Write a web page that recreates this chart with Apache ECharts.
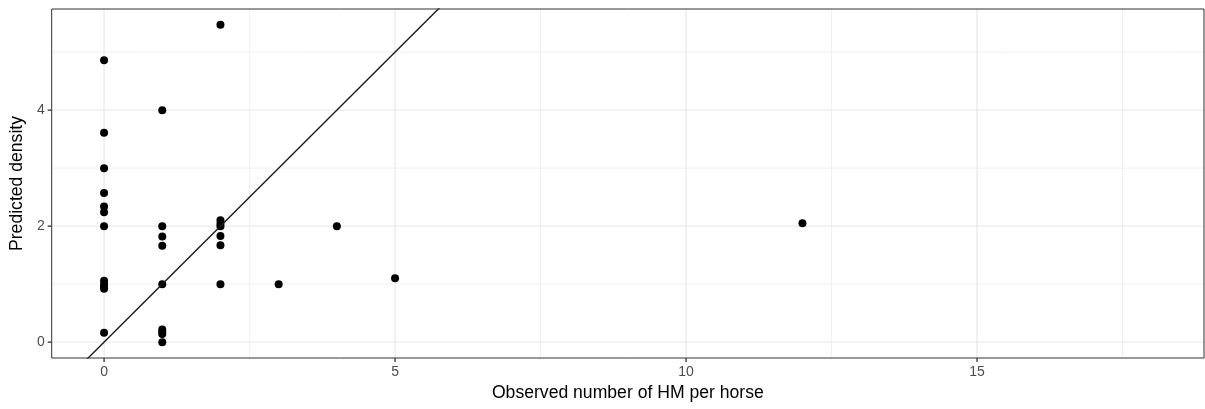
<!DOCTYPE html>
<html>
<head>
<meta charset="utf-8">
<script src="https://cdn.jsdelivr.net/npm/echarts@6/dist/echarts.min.js"></script>
<style>
html,body{margin:0;padding:0;background:#fff;}
#chart{width:1205px;height:409px;}
</style>
</head>
<body>
<div id="chart"></div>
<script>
// Observed number of HM per horse (x) and predicted density (y)
const observed = [
  0,0,0,0,0,0,0,0,0,0,0,0,
  1,1,1,1,1,1,1,1,1,
  2,2,2,2,2,2,2,
  3,4,5,12
];
const predicted = [
  4.86,3.61,3.0,2.57,2.34,2.24,2.0,1.06,1.0,0.96,0.92,0.16,
  4.0,2.0,1.82,1.66,1.0,0.22,0.18,0.14,0.0,
  5.47,2.1,2.04,2.0,1.83,1.67,1.0,
  1.0,2.0,1.1,2.05
];
// Tick labels / grid breaks
const xTicks = [0,5,10,15];
const xMinor = [2.5,7.5,12.5,17.5];
const yTicks = [0,2,4];
const yMinor = [1,3,5];
// Reference line y = intercept + slope * x
const refIntercept = 0;
const refSlope = 1;

const xMin = -0.9, xMax = 18.9;
const yMin = -0.2735, yMax = 5.7435;

const points = observed.map((x,i)=>[x, predicted[i]]);
// [kind(0 = vertical, 1 = horizontal), value, major]
const gridData = [];
xTicks.forEach(v=>gridData.push([0,v,1]));
xMinor.forEach(v=>gridData.push([0,v,0]));
yTicks.forEach(v=>gridData.push([1,v,1]));
yMinor.forEach(v=>gridData.push([1,v,0]));
// [kind, value] for outside tick marks
const tickData = [];
xTicks.forEach(v=>tickData.push([0,v]));
yTicks.forEach(v=>tickData.push([1,v]));
const refLine = [xMin, xMax].map(x=>[x, refIntercept + refSlope*x]);

const chart = echarts.init(document.getElementById('chart'), null, {renderer:'canvas'});
const font = 'Liberation Sans, Arial, sans-serif';
chart.setOption({
  animation:false,
  backgroundColor:'#ffffff',
  grid:{left:51,right:1,top:9,bottom:51,show:true,borderColor:'#333333',borderWidth:1,backgroundColor:'transparent',z:5},
  xAxis:{
    type:'value',min:xMin,max:xMax,
    name:'Observed number of HM per horse',nameLocation:'middle',nameGap:25,
    nameTextStyle:{color:'#000',fontSize:17.6,fontFamily:font},
    axisLine:{show:false,onZero:false},
    axisTick:{show:false},
    axisLabel:{customValues:xTicks,color:'#4d4d4d',fontSize:14,fontFamily:font,margin:7},
    splitLine:{show:false}
  },
  yAxis:{
    type:'value',min:yMin,max:yMax,
    name:'Predicted density',nameLocation:'middle',nameGap:25,nameRotate:90,
    nameTextStyle:{color:'#000',fontSize:17.6,fontFamily:font},
    axisLine:{show:false,onZero:false},
    axisTick:{show:false},
    axisLabel:{customValues:yTicks,color:'#4d4d4d',fontSize:14,fontFamily:font,margin:7},
    splitLine:{show:false}
  },
  series:[
    {
      type:'custom',z:1,silent:true,clip:true,
      data:gridData,
      encode:{x:-1,y:-1},
      renderItem:function(params,api){
        const cs = params.coordSys;
        const kind = api.value(0), v = api.value(1), major = api.value(2);
        let shape;
        if(kind===0){
          const px = api.coord([v, yMin])[0];
          shape = {x1:px,y1:cs.y,x2:px,y2:cs.y+cs.height};
        } else {
          const py = api.coord([xMin, v])[1];
          shape = {x1:cs.x,y1:py,x2:cs.x+cs.width,y2:py};
        }
        return {type:'line',shape:shape,style:{stroke:'#ebebeb',lineWidth:major?1.4:0.8}};
      }
    },
    {
      type:'custom',z:6,silent:true,clip:false,
      data:tickData,
      encode:{x:-1,y:-1},
      renderItem:function(params,api){
        const cs = params.coordSys;
        const kind = api.value(0), v = api.value(1);
        let shape;
        if(kind===0){
          const px = api.coord([v, yMin])[0];
          shape = {x1:px,y1:cs.y+cs.height,x2:px,y2:cs.y+cs.height+4};
        } else {
          const py = api.coord([xMin, v])[1];
          shape = {x1:cs.x-4,y1:py,x2:cs.x,y2:py};
        }
        return {type:'line',shape:shape,style:{stroke:'#333333',lineWidth:1.3}};
      }
    },
    {
      type:'scatter',z:3,data:points,symbol:'circle',symbolSize:8,
      itemStyle:{color:'#000000',opacity:1}
    },
    {
      type:'line',z:4,data:refLine,showSymbol:false,symbol:'none',clip:true,
      lineStyle:{color:'#1a1a1a',width:1.4}
    }
  ]
});
</script>
</body>
</html>
